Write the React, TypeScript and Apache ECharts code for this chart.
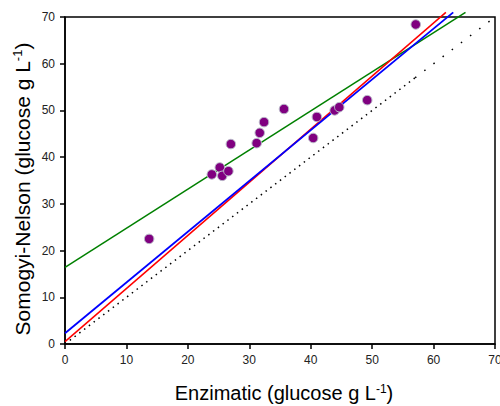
import React, { useEffect, useRef } from "react";
import * as echarts from "echarts";

const enzimatic = [13.7, 23.9, 25.2, 25.6, 26.6, 27.0, 31.2, 31.7, 32.4, 35.65, 40.4, 41.0, 43.9, 44.65, 49.2, 57.1];
const somogyi = [22.5, 36.3, 37.8, 36.0, 37.0, 42.8, 43.0, 45.2, 47.5, 50.3, 44.1, 48.6, 50.0, 50.7, 52.2, 68.4];

const redLine = [[0, 0.5], [62.0, 71]];
const blueLine = [[0, 2.3], [63.2, 71]];
const greenLine = [[0, 16.4], [65.2, 71]];
const identityDense = [[0, 0], [57, 57]];
const identitySparse = [[57, 57], [71, 71]];

const xTicks = { min: 0, max: 70, interval: 10 };
const yTicks = { min: 0, max: 70, interval: 10 };

const xTitle = ["Enzimatic (glucose g L", "-1", ")"];
const yTitle = ["Somogyi-Nelson (glucose g L", "-1", ")"];

export default function App() {
  const ref = useRef<HTMLDivElement>(null);
  useEffect(() => {
    document.body.style.margin = "0";
    const chart = echarts.init(ref.current!, null, { renderer: "svg" });
    const font = "'Liberation Sans', Arial, sans-serif";
    const titleRich = (size: number) => ({
      sup: { fontSize: Math.round(size * 0.6), fontFamily: font, color: "#000", verticalAlign: "top", padding: [0, 0, Math.round(size * 0.45), 0] },
      main: { fontSize: size, fontFamily: font, color: "#000" },
    });
    const fmt = (p: string[]) => `{main|${p[0]}}{sup|${p[1]}}{main|${p[2]}}`;
    chart.setOption({
      animation: false,
      backgroundColor: "#fff",
      grid: {
        left: 65, top: 17, right: 5, bottom: 62, show: true, containLabel: false, outerBoundsMode: "none",
        borderColor: "#000", borderWidth: 1.5, backgroundColor: "transparent",
      },
      graphic: [
        {
          type: "text", x: 284, y: 393, z: 10,
          style: { text: fmt(xTitle), rich: titleRich(20), align: "center", verticalAlign: "middle" },
        },
        {
          type: "text", x: 22, y: 189, rotation: Math.PI / 2, z: 10,
          style: { text: fmt(yTitle), rich: titleRich(21), align: "center", verticalAlign: "middle" },
        },
      ],
      xAxis: {
        type: "value",
        ...xTicks,
        axisLine: { show: true, lineStyle: { color: "#000", width: 1.5 } },
        axisTick: { show: true, inside: false, length: 5, lineStyle: { color: "#000", width: 1.5 } },
        axisLabel: { color: "#222", fontSize: 12, fontFamily: font, margin: 10 },
        splitLine: { show: false },
      },
      yAxis: {
        type: "value",
        ...yTicks,
        axisLine: { show: true, lineStyle: { color: "#000", width: 1.5 } },
        axisTick: { show: true, inside: false, length: 5, lineStyle: { color: "#000", width: 1.5 } },
        axisLabel: { color: "#222", fontSize: 12, fontFamily: font, margin: 10 },
        splitLine: { show: false },
      },
      series: [
        {
          type: "line", data: identityDense, clip: false, symbol: "none",
          lineStyle: { color: "#000", width: 1.5, type: [1.5, 4.5] }, z: 1,
        },
        {
          type: "line", data: identitySparse, clip: false, symbol: "none",
          lineStyle: { color: "#000", width: 1.5, type: [1.5, 10] }, z: 1,
        },
        {
          type: "line", data: greenLine, clip: false, symbol: "none",
          lineStyle: { color: "#008000", width: 1.5 }, z: 2,
        },
        {
          type: "line", data: redLine, clip: false, symbol: "none",
          lineStyle: { color: "#ff0000", width: 1.5 }, z: 2,
        },
        {
          type: "line", data: blueLine, clip: false, symbol: "none",
          lineStyle: { color: "#0000ff", width: 1.8 }, z: 3,
        },
        {
          type: "scatter",
          data: enzimatic.map((x, i) => [x, somogyi[i]]),
          symbol: "circle",
          symbolSize: 9.5,
          itemStyle: { color: "#800080", borderColor: "#b8b8c8", borderWidth: 1, opacity: 1 },
          z: 4,
        },
      ],
    });
    return () => chart.dispose();
  }, []);
  return <div ref={ref} style={{ width: 500, height: 406 }} />;
}
